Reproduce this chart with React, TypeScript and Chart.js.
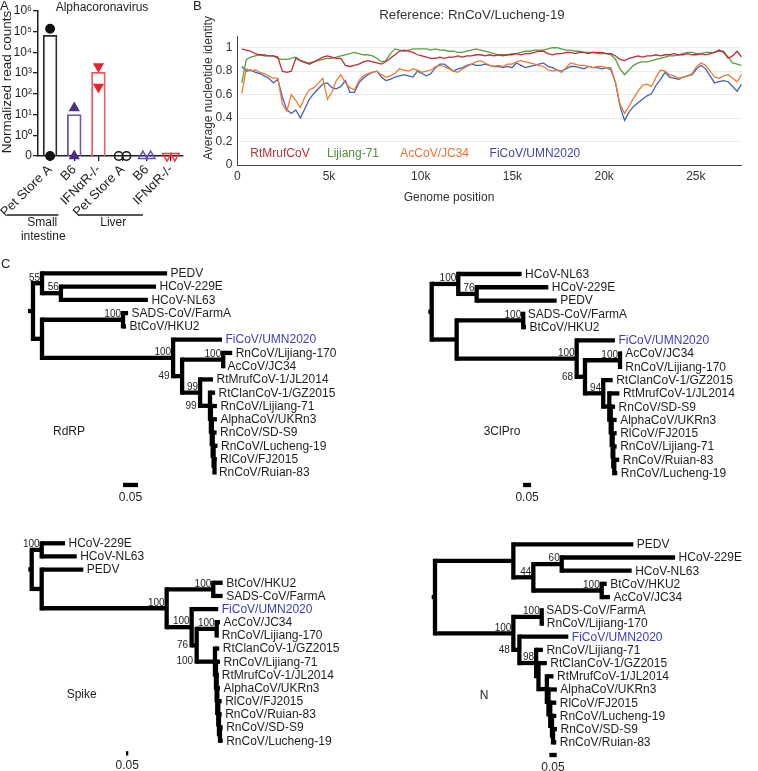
import React, { useEffect, useRef } from 'react';
import { Chart, registerables } from 'chart.js';

Chart.register(...registerables);

const FONT = '"Liberation Sans", Arial, Helvetica, sans-serif';
const INK = '#1f1d1e';

/* ---------------- Panel A data ---------------- */
const aTitle = 'Alphacoronavirus';
const aYTitle = 'Normalized read counts';
const aCategories = ['Pet Store A', 'B6', 'IFNαR-/-', 'Pet Store A', 'B6', 'IFNαR-/-'];
const aMeans = [70000, 10.5, 1150, 0, 0, 0];
const aReplicate1 = [140000, 21, 2100, 0, 0, 0];
const aReplicate2 = [0, 0, 215, 0, 0, 0];
const aGroupNames = ['Small', 'intestine', 'Liver'];
const aMarkerColors = ['#111111', '#4b2e86', '#e4262c', '#111111', '#6a4fc0', '#ee3a3e'];
const aBarColors = ['#2a2a2a', '#6e55b8', '#f25a5e', '#2a2a2a', '#6e55b8', '#f25a5e'];
const aTickExponents = ['⁰', '¹', '²', '³', '⁴', '⁵', '⁶'];
const aYTicks = [-1, 0, 1, 2, 3, 4, 5, 6];

/* ---------------- Panel B data ---------------- */
const bTitle = 'Reference: RnCoV/Lucheng-19';
const bXTitle = 'Genome position';
const bYTitle = 'Average nucleotide identity';
const bSeriesNames = ['RtMrufCoV', 'Lijiang-71', 'AcCoV/JC34', 'FiCoV/UMN2020'];
const bLineColors = ['#c3283d', '#5a9e3c', '#f07b2f', '#3b62c4'];
const bLegendColors = ['#b8323f', '#4f8f3a', '#ee7030', '#4444b0'];
const bXTicks = [0, 5000, 10000, 15000, 20000, 25000];
const bYTicks = [0, 0.2, 0.4, 0.6, 0.8, 1];
const bWindowStep = 245.5;
const bPositions = Array.from({ length: 112 }, (_, i) => (i + 1) * bWindowStep);
const bRtMruf = [
  0.99, 0.98, 0.97, 0.95, 0.94, 0.93, 0.93, 0.93, 0.92, 0.80, 0.79, 0.80, 0.91, 0.89, 0.88, 0.86,
  0.88, 0.90, 0.92, 0.93, 0.92, 0.91, 0.91, 0.85, 0.84, 0.85, 0.86, 0.88, 0.89, 0.88, 0.87, 0.86,
  0.88, 0.91, 0.94, 0.97, 0.98, 0.97, 0.96, 0.94, 0.93, 0.92, 0.91, 0.91, 0.92, 0.91, 0.92, 0.92,
  0.93, 0.92, 0.93, 0.93, 0.94, 0.94, 0.93, 0.94, 0.93, 0.94, 0.93, 0.94, 0.94, 0.95, 0.94, 0.95,
  0.95, 0.96, 0.97, 0.97, 0.95, 0.94, 0.95, 0.95, 0.96, 0.96, 0.95, 0.96, 0.96, 0.95, 0.96, 0.96,
  0.96, 0.95, 0.95, 0.93, 0.90, 0.89, 0.91, 0.92, 0.93, 0.92, 0.93, 0.93, 0.94, 0.93, 0.94, 0.94,
  0.95, 0.94, 0.94, 0.95, 0.94, 0.94, 0.95, 0.94, 0.95, 0.96, 0.98, 0.96, 0.91, 0.93, 0.97, 0.92,
];
const bLijiang71 = [
  0.70, 0.90, 0.92, 0.93, 0.94, 0.94, 0.93, 0.93, 0.91, 0.90, 0.90, 0.91, 0.92, 0.89, 0.87, 0.87,
  0.88, 0.89, 0.90, 0.91, 0.91, 0.92, 0.93, 0.94, 0.95, 0.96, 0.95, 0.94, 0.94, 0.93, 0.91, 0.88,
  0.89, 0.95, 0.99, 0.98, 0.97, 0.98, 0.99, 0.99, 0.99, 0.99, 0.98, 0.99, 0.98, 0.98, 0.97, 0.97,
  0.96, 0.96, 0.97, 0.98, 0.99, 0.98, 0.97, 0.96, 0.95, 0.94, 0.94, 0.94, 0.95, 0.95, 0.96, 0.97,
  0.97, 0.98, 0.98, 0.98, 0.99, 1.00, 1.00, 0.99, 0.98, 0.98, 0.97, 0.97, 0.96, 0.96, 0.96, 0.95,
  0.95, 0.95, 0.94, 0.90, 0.82, 0.77, 0.81, 0.85, 0.87, 0.88, 0.88, 0.89, 0.90, 0.91, 0.92, 0.93,
  0.93, 0.94, 0.95, 0.96, 0.96, 0.95, 0.95, 0.96, 0.96, 0.96, 0.97, 0.97, 0.92, 0.87, 0.86, 0.85,
];
const bAcCoV = [
  0.61, 0.82, 0.80, 0.81, 0.79, 0.78, 0.76, 0.74, 0.74, 0.52, 0.46, 0.60, 0.55, 0.49, 0.58, 0.64,
  0.66, 0.70, 0.74, 0.56, 0.62, 0.72, 0.77, 0.70, 0.66, 0.64, 0.72, 0.76, 0.78, 0.79, 0.80, 0.77,
  0.75, 0.76, 0.78, 0.82, 0.81, 0.80, 0.82, 0.81, 0.79, 0.80, 0.81, 0.84, 0.85, 0.84, 0.82, 0.80,
  0.79, 0.82, 0.84, 0.86, 0.88, 0.89, 0.87, 0.85, 0.84, 0.85, 0.84, 0.86, 0.86, 0.88, 0.89, 0.88,
  0.87, 0.86, 0.85, 0.84, 0.81, 0.80, 0.81, 0.79, 0.83, 0.87, 0.86, 0.85, 0.85, 0.84, 0.83, 0.84,
  0.84, 0.83, 0.83, 0.70, 0.52, 0.44, 0.50, 0.57, 0.63, 0.68, 0.69, 0.67, 0.75, 0.81, 0.80, 0.77,
  0.76, 0.74, 0.75, 0.76, 0.78, 0.84, 0.87, 0.85, 0.80, 0.75, 0.74, 0.76, 0.77, 0.74, 0.71, 0.77,
];
const bFiCoV = [
  0.84, 0.80, 0.81, 0.79, 0.78, 0.76, 0.74, 0.70, 0.73, 0.58, 0.47, 0.44, 0.47, 0.40, 0.48, 0.56,
  0.61, 0.65, 0.69, 0.70, 0.66, 0.65, 0.67, 0.72, 0.62, 0.62, 0.70, 0.74, 0.77, 0.79, 0.80, 0.75,
  0.72, 0.73, 0.75, 0.76, 0.77, 0.76, 0.75, 0.80, 0.78, 0.76, 0.78, 0.83, 0.86, 0.86, 0.83, 0.80,
  0.82, 0.83, 0.85, 0.86, 0.85, 0.85, 0.86, 0.85, 0.84, 0.84, 0.83, 0.84, 0.83, 0.87, 0.85, 0.83,
  0.84, 0.85, 0.86, 0.87, 0.84, 0.83, 0.81, 0.80, 0.82, 0.84, 0.84, 0.83, 0.82, 0.84, 0.83, 0.83,
  0.82, 0.83, 0.81, 0.70, 0.50, 0.38, 0.45, 0.50, 0.53, 0.56, 0.59, 0.61, 0.68, 0.73, 0.79, 0.75,
  0.74, 0.73, 0.75, 0.76, 0.77, 0.82, 0.85, 0.82, 0.76, 0.70, 0.71, 0.72, 0.71, 0.67, 0.63, 0.69,
];
const bSeries = [bRtMruf, bLijiang71, bAcCoV, bFiCoV];

/* ---------------- Panel C data (Newick trees) ---------------- */
const rdrpNewick =
  '((PEDV:0.417,(HCoV-229E:0.317,HCoV-NL63:0.29)56:0.063)55:0.03,((SADS-CoV/FarmA:0.017,BtCoV/HKU2:0.01)100:0.27,(FiCoV/UMN2020:0.163,((RnCoV/Lijiang-170:0.03,AcCoV/JC34:0.003)100:0.137,(RtMrufCoV-1/JL2014:0.043,(RtClanCoV-1/GZ2015:0.017,(RnCoV/Lijiang-71:0.02,(AlphaCoV/UKRn3:0.017,(RnCoV/SD-S9:0.013,(RnCoV/Lucheng-19:0.013,(RlCoV/FJ2015:0.007,RnCoV/Ruian-83:0.003):0.003):0.003):0.003):0.003):0.003)99:0.033)99:0.06)49:0.03)100:0.437):0.03);';
const clproNewick =
  '((HCoV-NL63:0.396,(HCoV-229E:0.448,PEDV:0.5)76:0.115)100:0.166,((SADS-CoV/FarmA:0.006,BtCoV/HKU2:0.017)100:0.416,(FiCoV/UMN2020:0.239,((AcCoV/JC34:0.011,RnCoV/Lijiang-170:0.011)100:0.219,(RtClanCoV-1/GZ2015:0.059,(RtMrufCoV-1/JL2014:0.063,(RnCoV/SD-S9:0.027,(AlphaCoV/UKRn3:0.031,(RlCoV/FJ2015:0.025,(RnCoV/Lijiang-71:0.021,(RnCoV/Ruian-83:0.031,RnCoV/Lucheng-19:0.019):0.006):0.004):0.006):0.006):0.009):0.038)94:0.114)68:0.052)100:0.75):0.156);';
const spikeNewick =
  '((HCoV-229E:0.507,HCoV-NL63:0.761)100:0.217,(PEDV:0.904,((BtCoV/HKU2:0.204,SADS-CoV/FarmA:0.204)100:1.013,(FiCoV/UMN2020:0.578,((AcCoV/JC34:0.072,RnCoV/Lijiang-170:0.035)100:0.435,(RtClanCoV-1/GZ2015:0.093,(RnCoV/Lijiang-71:0.087,(RtMrufCoV-1/JL2014:0.035,(AlphaCoV/UKRn3:0.059,(RlCoV/FJ2015:0.074,(RnCoV/Ruian-83:0.059,(RnCoV/SD-S9:0.059,RnCoV/Lucheng-19:0.059):0.022):0.015):0.022):0.013):0.015):0.022)100:0.398)76:0.109)100:0.543)100:2.717):0.217);';
const nNewick =
  '((PEDV:0.816,((HCoV-229E:0.771,HCoV-NL63:0.476)60:0.193,(BtCoV/HKU2:0.034,AcCoV/JC34:0.056)100:0.465)44:0.136):0.533,((SADS-CoV/FarmA:0.007,RnCoV/Lijiang-170:0.011)100:0.193,(FiCoV/UMN2020:0.333,(RnCoV/Lijiang-71:0.046,(RtClanCoV-1/GZ2015:0.057,(RtMrufCoV-1/JL2014:0.045,(AlphaCoV/UKRn3:0.057,(RlCoV/FJ2015:0.041,(RnCoV/Lucheng-19:0.029,(RnCoV/SD-S9:0.027,RnCoV/Ruian-83:0.022):0.007):0.012):0.012):0.011):0.057):0.016)98:0.114)48:0.041)100:0.533);';
const highlightedTaxa = ['FiCoV/UMN2020'];
const scaleBarLength = 0.05;
const scaleBarLabel = '0.05';

/* layout of the four trees (positions / scales only) */
const treeLayouts = [
  { key: 'rdrp', title: 'RdRP', newick: rdrpNewick, left: 0, top: 245, width: 380, height: 265, rootPx: 33, pxPerUnit: 300, firstLeafPx: 28.3, leafGap: 13.27, stubPx: 5, barX: 0.3, barIdx: 15.95, titleX: 69, titleIdx: 11.96, letter: 'C' },
  { key: 'clpro', title: '3ClPro', newick: clproNewick, left: 380, top: 245, width: 378, height: 265, rootPx: 51.7, pxPerUnit: 160, firstLeafPx: 29, leafGap: 13.27, stubPx: 3.4, barX: 0.571, barIdx: 15.9, titleX: 122, titleIdx: 11.88, letter: '' },
  { key: 'spike', title: 'Spike', newick: spikeNewick, left: 0, top: 510, width: 380, height: 261, rootPx: 31.7, pxPerUnit: 46, firstLeafPx: 33.3, leafGap: 13.16, stubPx: 3.4, barX: 2.05, barIdx: 15.96, titleX: 81.7, titleIdx: 11.53, letter: '' },
  { key: 'n', title: 'N', newick: nNewick, left: 380, top: 510, width: 378, height: 261, rootPx: 55, pxPerUnit: 147, firstLeafPx: 34.3, leafGap: 13.2, stubPx: 3.3, barX: 0.778, barIdx: 15.96, titleX: 104, titleIdx: 11.49, letter: '' },
];

/* ---------------- helpers ---------------- */
const lg = (v: number) => (v > 0 ? Math.log10(v) : -1);

interface TNode { name: string; len: number; children: TNode[]; parent: TNode | null; x: number; y: number; }

function parseNewick(src: string): TNode {
  const s = src.trim();
  let i = 0;
  const read = (parent: TNode | null): TNode => {
    const n: TNode = { name: '', len: 0, children: [], parent, x: 0, y: 0 };
    if (s[i] === '(') {
      i++;
      n.children.push(read(n));
      while (s[i] === ',') { i++; n.children.push(read(n)); }
      i++;
    }
    let name = '';
    while (i < s.length && '(),:;'.indexOf(s[i]) < 0) name += s[i++];
    n.name = name.trim();
    if (s[i] === ':') {
      i++;
      let num = '';
      while (i < s.length && '(),;'.indexOf(s[i]) < 0) num += s[i++];
      n.len = parseFloat(num);
    }
    return n;
  };
  return read(null);
}

function layoutTree(root: TNode): TNode[] {
  let leaf = 0;
  const all: TNode[] = [];
  const walk = (n: TNode, depth: number) => {
    n.x = depth;
    all.push(n);
    if (!n.children.length) { n.y = leaf++; return; }
    n.children.forEach((c) => walk(c, depth + c.len));
    n.y = (n.children[0].y + n.children[n.children.length - 1].y) / 2;
  };
  walk(root, 0);
  return all;
}

/* ---------------- Panel A ---------------- */
function buildPanelA(): any {
  const shapes = aCategories.map((_, i) => (i % 3 === 0 ? 'circle' : 'triangle'));
  const rots = aCategories.map((_, i) => (i % 3 === 2 ? 180 : 0));
  const radii = aCategories.map((_, i) => (i % 3 === 0 ? 4.2 : 5));
  const fills = aCategories.map((_, i) => (i < 3 ? aMarkerColors[i] : 'rgba(255,255,255,0)'));
  const ptData = (reps: number[], sign: number) =>
    reps.map((v, i) => ({ x: i + (aReplicate1[i] === aReplicate2[i] ? sign * 0.16 : 0), y: lg(v) }));
  const pointDs = (reps: number[], sign: number) => ({
    type: 'scatter',
    data: ptData(reps, sign),
    pointStyle: shapes,
    pointRotation: rots,
    pointRadius: radii,
    pointBackgroundColor: fills,
    pointBorderColor: aMarkerColors,
    pointBorderWidth: 1.5,
    clip: false,
  });
  const barIdx = aMeans.map((v, i) => i).filter((i) => aMeans[i] > 0);

  const textPlugin = {
    id: 'panelAText',
    afterDraw(chart: any) {
      const { ctx } = chart;
      const xs = chart.scales.x;
      const c = (i: number) => xs.getPixelForValue(i);
      ctx.save();
      ctx.fillStyle = INK;
      ctx.textBaseline = 'middle';
      ctx.font = `13px ${FONT}`;
      ctx.textAlign = 'left';
      ctx.fillText('A', 0, 6);
      ctx.font = `12px ${FONT}`;
      ctx.textAlign = 'center';
      ctx.fillText(aTitle, 102, 8);
      ctx.save();
      ctx.translate(7.5, 82);
      ctx.rotate(-Math.PI / 2);
      ctx.font = `13.5px ${FONT}`;
      ctx.fillText(aYTitle, 0, 0);
      ctx.restore();
      ctx.strokeStyle = INK;
      ctx.lineWidth = 1.5;
      ctx.beginPath();
      ctx.moveTo(c(0) - 43, 215);
      ctx.lineTo(c(2) - 40, 215);
      ctx.moveTo(c(3) - 44, 215);
      ctx.lineTo(c(5) - 28, 215);
      ctx.stroke();
      ctx.font = `12px ${FONT}`;
      ctx.fillText(aGroupNames[0], c(1) - 32, 223);
      ctx.fillText(aGroupNames[1], c(1) - 31, 237);
      ctx.fillText(aGroupNames[2], c(4) - 33.5, 223);
      ctx.restore();
    },
  };

  return {
    type: 'bar',
    data: {
      datasets: [
        pointDs(aReplicate1, -1),
        pointDs(aReplicate2, 1),
        {
          type: 'bar',
          data: barIdx.map((i) => ({ x: i, y: [-1, lg(aMeans[i])] })),
          backgroundColor: 'rgba(255,255,255,0)',
          borderColor: barIdx.map((i) => aBarColors[i]),
          borderWidth: 1.8,
          borderSkipped: 'start',
          barPercentage: 0.6,
          categoryPercentage: 1,
        },
      ],
    },
    options: {
      responsive: false,
      animation: false,
      events: [],
      layout: { padding: { top: 11, right: 7, left: 0, bottom: 0 } },
      plugins: { legend: { display: false }, tooltip: { enabled: false }, title: { display: false } },
      scales: {
        x: {
          type: 'linear',
          min: -0.5,
          max: 5.5,
          offset: false,
          grid: { display: true, drawOnChartArea: false, drawTicks: true, tickLength: 5, offset: false, color: INK, lineWidth: 1.3 },
          border: { display: true, color: INK, width: 1.5 },
          afterBuildTicks: (s: any) => { s.ticks = aCategories.map((_, i) => ({ value: i })); },
          ticks: {
            font: { family: FONT, size: 13 },
            color: INK,
            minRotation: 45,
            maxRotation: 45,
            autoSkip: false,
            padding: 1,
            callback: (v: number) => aCategories[Math.round(v)],
          },
          afterFit: (s: any) => { s.height = 89; s.paddingLeft = 0; s.paddingRight = 0; },
        },
        y: {
          type: 'linear',
          min: -1,
          max: 6,
          grid: { display: true, drawOnChartArea: false, drawTicks: true, tickLength: 5, color: INK, lineWidth: 1.3 },
          border: { display: true, color: INK, width: 1.5 },
          afterBuildTicks: (s: any) => { s.ticks = aYTicks.map((v) => ({ value: v })); },
          ticks: {
            font: { family: FONT, size: 12 },
            color: INK,
            padding: 1,
            callback: (v: number) => (v === -1 ? '0' : '10' + aTickExponents[v]),
          },
          afterFit: (s: any) => { s.width = 38; s.paddingTop = 0; s.paddingBottom = 0; },
        },
      },
    },
    plugins: [textPlugin],
  };
}

/* ---------------- Panel B ---------------- */
function buildPanelB(): any {
  const textPlugin = {
    id: 'panelBText',
    afterDraw(chart: any) {
      const { ctx } = chart;
      const ca = chart.chartArea;
      ctx.save();
      ctx.textBaseline = 'middle';
      ctx.fillStyle = INK;
      ctx.font = `13px ${FONT}`;
      ctx.textAlign = 'left';
      ctx.fillText('B', 3, 6);
      ctx.fillStyle = '#333';
      ctx.textAlign = 'center';
      ctx.font = `13.3px ${FONT}`;
      ctx.fillText(bTitle, 282, 15);
      ctx.font = `12px ${FONT}`;
      ctx.fillText(bXTitle, 259, 198);
      ctx.save();
      ctx.translate(19, 88);
      ctx.rotate(-Math.PI / 2);
      ctx.fillText(bYTitle, 0, 0);
      ctx.restore();
      const offs = [13, 89.7, 163, 252.3];
      ctx.textAlign = 'left';
      bSeriesNames.forEach((n, i) => {
        ctx.fillStyle = bLegendColors[i];
        ctx.fillText(n, ca.left + offs[i], ca.bottom - 11);
      });
      ctx.restore();
    },
  };
  return {
    type: 'line',
    data: {
      datasets: bSeries.map((vals, si) => ({
        label: bSeriesNames[si],
        data: bPositions.map((p, i) => ({ x: p, y: vals[i] })),
        borderColor: bLineColors[si],
        borderWidth: 1.3,
        pointRadius: 0,
        tension: 0,
        fill: false,
      })),
    },
    options: {
      responsive: false,
      animation: false,
      events: [],
      layout: { padding: { top: 36, right: 16.3, left: 0, bottom: 0 } },
      plugins: { legend: { display: false }, tooltip: { enabled: false }, title: { display: false } },
      scales: {
        x: {
          type: 'linear',
          min: 0,
          max: 27500,
          grid: { display: false, drawTicks: false },
          border: { display: true, color: '#444', width: 1 },
          afterBuildTicks: (s: any) => { s.ticks = bXTicks.map((v) => ({ value: v })); },
          ticks: {
            padding: 4,
            color: '#333',
            autoSkip: false,
            maxRotation: 0,
            font: { family: FONT, size: 12 },
            callback: (v: number) => (v === 0 ? '0' : `${Math.round(v / 1000)}k`),
          },
          afterFit: (s: any) => { s.height = 45; s.paddingLeft = 0; s.paddingRight = 0; },
        },
        y: {
          type: 'linear',
          min: 0,
          max: 1.1,
          grid: { display: true, drawTicks: false, color: '#ebebeb', lineWidth: 1 },
          border: { display: true, color: '#444', width: 1 },
          afterBuildTicks: (s: any) => { s.ticks = bYTicks.map((v) => ({ value: v })); },
          ticks: {
            padding: 5,
            color: '#333',
            font: { family: FONT, size: 12 },
            callback: (v: number) => String(parseFloat(Number(v).toFixed(1))),
          },
          afterFit: (s: any) => { s.width = 47.3; s.paddingTop = 0; s.paddingBottom = 0; },
        },
      },
    },
    plugins: [textPlugin],
  };
}

/* ---------------- Panel C trees ---------------- */
const TREE_LW = 4.3;

function buildTree(t: any): any {
  const root = parseNewick(t.newick);
  const nodes = layoutTree(root);
  const stub = t.stubPx / t.pxPerUnit;
  const segs: any[] = [[-stub, root.y, 0, root.y, 'butt']];
  nodes.forEach((n) => {
    if (n.parent) segs.push([n.parent.x, n.y, n.x, n.y, 'butt']);
    if (n.children.length) segs.push([n.x, n.children[0].y, n.x, n.children[n.children.length - 1].y, 'square']);
  });
  segs.push([t.barX, t.barIdx, t.barX + scaleBarLength, t.barIdx, 'butt']);
  const datasets = segs.map((s) => ({
    data: [{ x: s[0], y: s[1] }, { x: s[2], y: s[3] }],
    showLine: true,
    borderColor: '#000',
    borderWidth: TREE_LW,
    borderCapStyle: s[4],
    pointRadius: 0,
    fill: false,
    clip: false,
  }));

  const labelPlugin = {
    id: 'treeLabels',
    afterDatasetsDraw(chart: any) {
      const { ctx } = chart;
      const xs = chart.scales.x;
      const ys = chart.scales.y;
      ctx.save();
      ctx.textBaseline = 'middle';
      nodes.forEach((n) => {
        const px = xs.getPixelForValue(n.x);
        const py = ys.getPixelForValue(n.y);
        if (!n.children.length) {
          ctx.font = `12px ${FONT}`;
          ctx.textAlign = 'left';
          ctx.fillStyle = highlightedTaxa.includes(n.name) ? '#3d3db5' : INK;
          ctx.fillText(n.name, px + 3.5, py + 0.5);
        } else if (n.name && n.parent) {
          ctx.font = `10px ${FONT}`;
          ctx.fillStyle = INK;
          ctx.textAlign = 'right';
          const w = ctx.measureText(n.name).width;
          const ppx = xs.getPixelForValue(n.parent.x);
          const isFirst = n.parent.children[0] === n;
          if (px - ppx >= w + 4 || isFirst) ctx.fillText(n.name, px - 2, py - 5.5);
          else ctx.fillText(n.name, ppx - 3.5, py);
        }
      });
      ctx.fillStyle = INK;
      ctx.textAlign = 'center';
      ctx.font = `12px ${FONT}`;
      ctx.fillText(t.title, t.titleX, ys.getPixelForValue(t.titleIdx));
      const bx = xs.getPixelForValue(t.barX + scaleBarLength / 2);
      ctx.fillText(scaleBarLabel, bx, ys.getPixelForValue(t.barIdx) + 12.5);
      if (t.letter) {
        ctx.textAlign = 'left';
        ctx.font = `13px ${FONT}`;
        ctx.fillText(t.letter, 1, 19);
      }
      ctx.restore();
    },
  };

  return {
    type: 'scatter',
    data: { datasets },
    options: {
      responsive: false,
      animation: false,
      events: [],
      layout: { padding: 0 },
      plugins: { legend: { display: false }, tooltip: { enabled: false }, title: { display: false } },
      scales: {
        x: { type: 'linear', display: false, min: -t.rootPx / t.pxPerUnit, max: (t.width - t.rootPx) / t.pxPerUnit },
        y: { type: 'linear', display: false, reverse: true, min: -t.firstLeafPx / t.leafGap, max: (t.height - t.firstLeafPx) / t.leafGap },
      },
    },
    plugins: [labelPlugin],
  };
}

/* ---------------- components ---------------- */
function ChartCanvas(props: { left: number; top: number; width: number; height: number; build: () => any }) {
  const ref = useRef<HTMLCanvasElement>(null);
  useEffect(() => {
    const chart = new Chart(ref.current as HTMLCanvasElement, props.build());
    return () => chart.destroy();
  }, []);
  return (
    <canvas
      ref={ref}
      width={props.width}
      height={props.height}
      style={{ position: 'absolute', left: props.left, top: props.top, width: props.width, height: props.height }}
    />
  );
}

export default function App() {
  return (
    <div style={{ position: 'absolute', left: 0, top: 0, width: 758, height: 771, background: '#fff', overflow: 'hidden' }}>
      <ChartCanvas left={0} top={0} width={190} height={245} build={buildPanelA} />
      <ChartCanvas left={190} top={0} width={568} height={210} build={buildPanelB} />
      {treeLayouts.map((t) => (
        <ChartCanvas key={t.key} left={t.left} top={t.top} width={t.width} height={t.height} build={() => buildTree(t)} />
      ))}
    </div>
  );
}
